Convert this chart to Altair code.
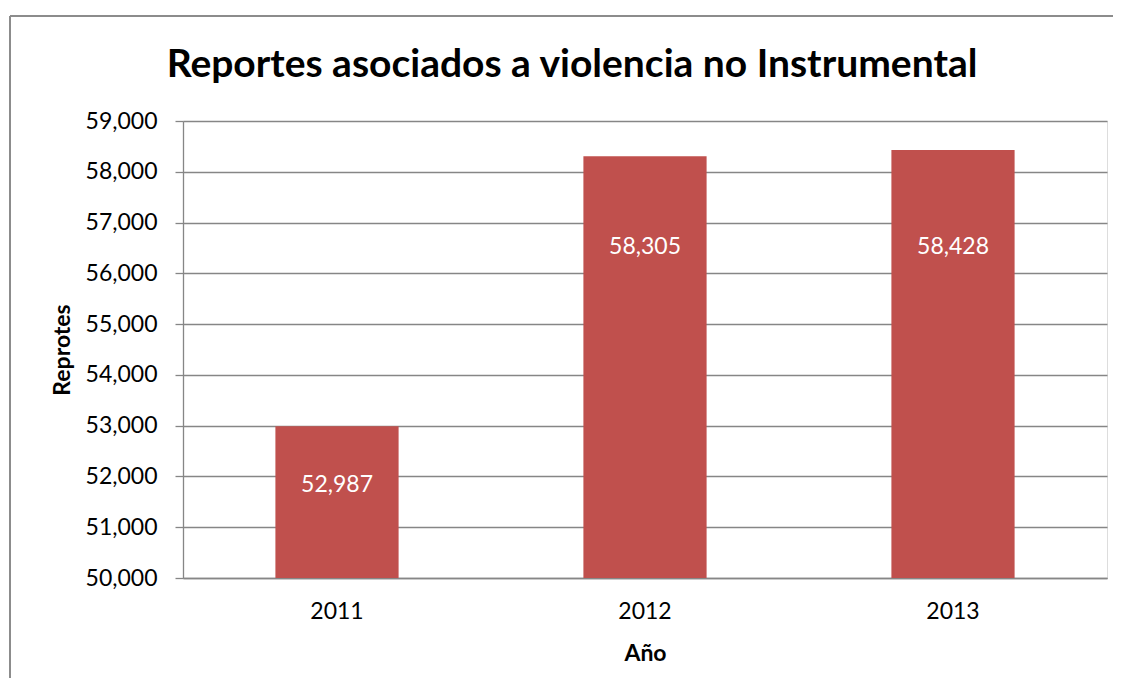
import altair as alt
import pandas as pd

years = ["2011", "2012", "2013"]
reports = [52987, 58305, 58428]
# where each value label sits (data units)
label_at = [51830, 56520, 56520]
y_ticks = [50000, 51000, 52000, 53000, 54000, 55000, 56000, 57000, 58000, 59000]

df = pd.DataFrame({"year": years, "reports": reports, "label_at": label_at})

FONT = "Lato"
GRID = "#868686"
W, H = 924, 457

x_axis = alt.Axis(
    labelAngle=0, ticks=False, labelPadding=22, labelFontSize=23,
    labelFont=FONT, labelColor="#000000", domain=True, domainColor=GRID,
    domainWidth=1.3, titleFont=FONT, titleFontSize=23, titleFontWeight="bold",
    titleColor="#000000", titleY=75, titleBaseline="middle",
)
y_axis = alt.Axis(
    values=y_ticks, format=",.0f", grid=True, gridColor=GRID, gridWidth=1.3,
    tickColor=GRID, tickSize=8, tickWidth=1.3, domainColor=GRID, domainWidth=1.3,
    labelPadding=18, labelFontSize=23, labelFont=FONT, labelColor="#000000",
    titleFont=FONT, titleFontSize=23, titleFontWeight="bold", titleColor="#000000",
    titleAngle=270, titleX=-121, titleY=H / 2, titleBaseline="middle",
    titleAlign="center",
)
x_scale = alt.Scale(paddingInner=0.6, paddingOuter=0.3)
y_scale = alt.Scale(domain=[50000, 59000], nice=False, zero=False)

base = alt.Chart(df)

bars = base.mark_bar(color="#C0504D", clip=True).encode(
    x=alt.X("year:N", title="Año", sort=years, scale=x_scale, axis=x_axis),
    y=alt.Y("reports:Q", title="Reprotes", scale=y_scale, axis=y_axis),
    y2=alt.datum(50000),
)

labels = base.mark_text(
    color="#FFFFFF", font=FONT, fontSize=23, baseline="middle", align="center"
).encode(
    x=alt.X("year:N", title="Año", sort=years, scale=x_scale, axis=x_axis),
    y=alt.Y("label_at:Q", title="Reprotes", scale=y_scale, axis=y_axis),
    text=alt.Text("reports:Q", format=","),
)

border_data = alt.Data(values=[{"k": 1}])
left_border = alt.Chart(border_data).mark_rule(color="#8c8c8c", strokeWidth=2).encode(
    x=alt.value(-173), y=alt.value(-105), y2=alt.value(700)
)
top_border = alt.Chart(border_data).mark_rule(color="#8c8c8c", strokeWidth=2).encode(
    x=alt.value(-173), x2=alt.value(1000), y=alt.value(-105)
)

chart = alt.layer(bars, labels, left_border, top_border).properties(
    width=W,
    height=H,
    title=alt.TitleParams(
        "Reportes asociados a violencia no Instrumental",
        font=FONT, fontSize=39, fontWeight="bold", color="#000000",
        anchor="middle", frame="group", dx=-73, offset=-101, baseline="alphabetic",
    ),
    autosize=alt.AutoSizeParams(type="none"),
    padding={"left": 175, "top": 113, "right": 6, "bottom": 100},
).configure_view(stroke=None).configure(background="#FFFFFF")

chart.save("out.html", embed_options={"renderer": "svg", "actions": False})
